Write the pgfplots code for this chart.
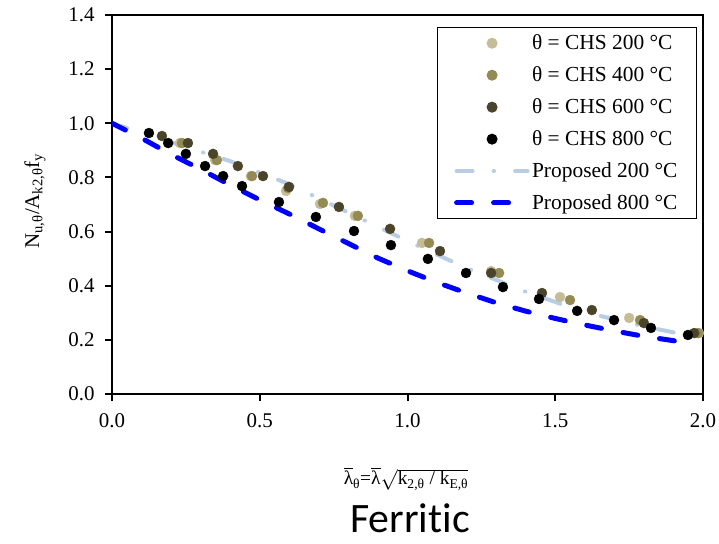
\documentclass[border=0pt]{standalone}
\usepackage{pgfplots}
\pgfplotsset{compat=1.18}
\usepackage{amsmath}
\usepackage{fontspec}
\setmainfont{Liberation Serif}
\newfontfamily\carlito[Ligatures=NoCommon]{Carlito}

\definecolor{c200}{HTML}{C4BD97}
\definecolor{c400}{HTML}{948A54}
\definecolor{c600}{HTML}{4A452A}
\definecolor{p200}{HTML}{B9CDE5}
\definecolor{p800}{HTML}{0000FF}

\pgfplotsset{
  markleg/.style={legend image code/.code={\draw[mark repeat=2,mark phase=2,##1] plot coordinates {(0bp,0bp)(35.5bp,0bp)(71bp,0bp)};}},
  lineleg/.style={legend image code/.code={\draw[##1] (0bp,0bp) -- (71bp,0bp);}},
}

\begin{document}
\begin{tikzpicture}
\path[use as bounding box] (0,0) rectangle (719bp,544bp);
\begin{axis}[
  at={(112bp,150bp)}, anchor=south west,
  scale only axis, width=591bp, height=379bp,
  xmin=0, xmax=2, ymin=0, ymax=1.4,
  xtick={0,0.5,1,1.5,2},
  ytick={0,0.2,0.4,0.6,0.8,1.0,1.2,1.4},
  tick pos=left, tick align=outside,
  major tick length=7bp,
  axis line style={line width=2bp},
  every tick/.style={line width=2bp, black},
  tick label style={font=\fontsize{21}{25}\selectfont},
  xticklabel style={yshift=-9bp},
  yticklabel style={xshift=-7bp},
  /pgf/number format/.cd, fixed, fixed zerofill, precision=1, assume math mode=true,
  /pgfplots/.cd,
  legend style={at={(rel axis cs:1,1)}, anchor=north east, xshift=-6bp, yshift=-12bp,
    draw=black, line width=1bp, font=\fontsize{21.5}{25}\selectfont,
    row sep=11.5bp, inner xsep=17bp, inner ysep=5.5bp,
    cells={anchor=west}, nodes={inner sep=2bp}},
  legend cell align=left,
]
% Proposed curves (drawn underneath)
\addplot[forget plot, p200, line width=4bp, line cap=round, dash pattern=on 16bp off 21bp on 0.5bp off 21bp] coordinates {
(0,1.0) (0.2,0.93) (0.4,0.86) (0.6,0.775) (0.8,0.67) (1.0,0.565) (1.2,0.465) (1.4,0.378) (1.6,0.302) (1.8,0.25) (1.97,0.212)
};
\addplot[forget plot, p800, line width=5bp, line cap=round, dash pattern=on 15bp off 22bp] coordinates {
(0,1.0) (0.1,0.945) (0.2,0.885) (0.3,0.83) (0.4,0.772) (0.5,0.717) (0.6,0.665) (0.7,0.61) (0.8,0.556) (0.9,0.502) (1.0,0.455) (1.1,0.412) (1.2,0.373) (1.3,0.337) (1.4,0.306) (1.5,0.279) (1.6,0.255) (1.7,0.233) (1.8,0.213) (1.9,0.197) (1.96,0.185)
};
% Test data
\addplot[only marks, mark=*, mark size=5bp, c200, markleg] coordinates {
(0.230,0.927) (0.349,0.864) (0.470,0.805) (0.589,0.750) (0.704,0.702) (0.822,0.658) (1.049,0.558) (1.283,0.454) (1.516,0.358) (1.750,0.281) (1.986,0.225)
};
\addlegendentry{θ = CHS 200 °C}
\addplot[only marks, mark=*, mark size=5bp, c400, markleg] coordinates {
(0.237,0.927) (0.355,0.864) (0.474,0.805) (0.596,0.761) (0.714,0.706) (0.832,0.658) (1.073,0.558) (1.310,0.447) (1.550,0.347) (1.787,0.273) (1.983,0.225)
};
\addlegendentry{θ = CHS 400 °C}
\addplot[only marks, mark=*, mark size=5bp, c600, markleg] coordinates {
(0.169,0.953) (0.257,0.927) (0.342,0.887) (0.426,0.842) (0.511,0.805) (0.599,0.765) (0.768,0.691) (0.941,0.610) (1.110,0.528) (1.283,0.447) (1.455,0.373) (1.624,0.310) (1.800,0.262) (1.970,0.225)
};
\addlegendentry{θ = CHS 600 °C}
\addplot[only marks, mark=*, mark size=5bp, black, markleg] coordinates {
(0.125,0.964) (0.190,0.927) (0.250,0.887) (0.315,0.842) (0.376,0.805) (0.440,0.768) (0.565,0.709) (0.690,0.654) (0.819,0.602) (0.944,0.550) (1.069,0.499) (1.198,0.447) (1.323,0.395) (1.445,0.351) (1.574,0.307) (1.699,0.273) (1.824,0.244) (1.949,0.218)
};
\addlegendentry{θ = CHS 800 °C}
\addlegendimage{p200, line width=4bp, line cap=round, dash pattern=on 16bp off 21bp on 0.5bp off 21bp, lineleg}
\addlegendentry{Proposed 200 °C}
\addlegendimage{p800, line width=5bp, line cap=round, dash pattern=on 15bp off 22bp, lineleg}
\addlegendentry{Proposed 800 °C}
\end{axis}
\node[rotate=90, font=\fontsize{21}{25}\selectfont] at (35bp,343bp) {N\textsubscript{u,θ}/A\textsubscript{k2,θ}f\textsubscript{y}};
\node[anchor=base, font=\fontsize{19.5}{23}\selectfont] at (406bp,59bp) {$\overline{\text{λ}}_{\text{θ}}\text{=}\overline{\text{λ}}\sqrt{\text{k}_{\text{2,θ}}\text{ / k}_{\text{E,θ}}}$};
\node[anchor=base, inner sep=0pt, font=\carlito\fontsize{42}{48}\selectfont] at (410bp,12bp) {Ferritic};
\end{tikzpicture}
\end{document}
